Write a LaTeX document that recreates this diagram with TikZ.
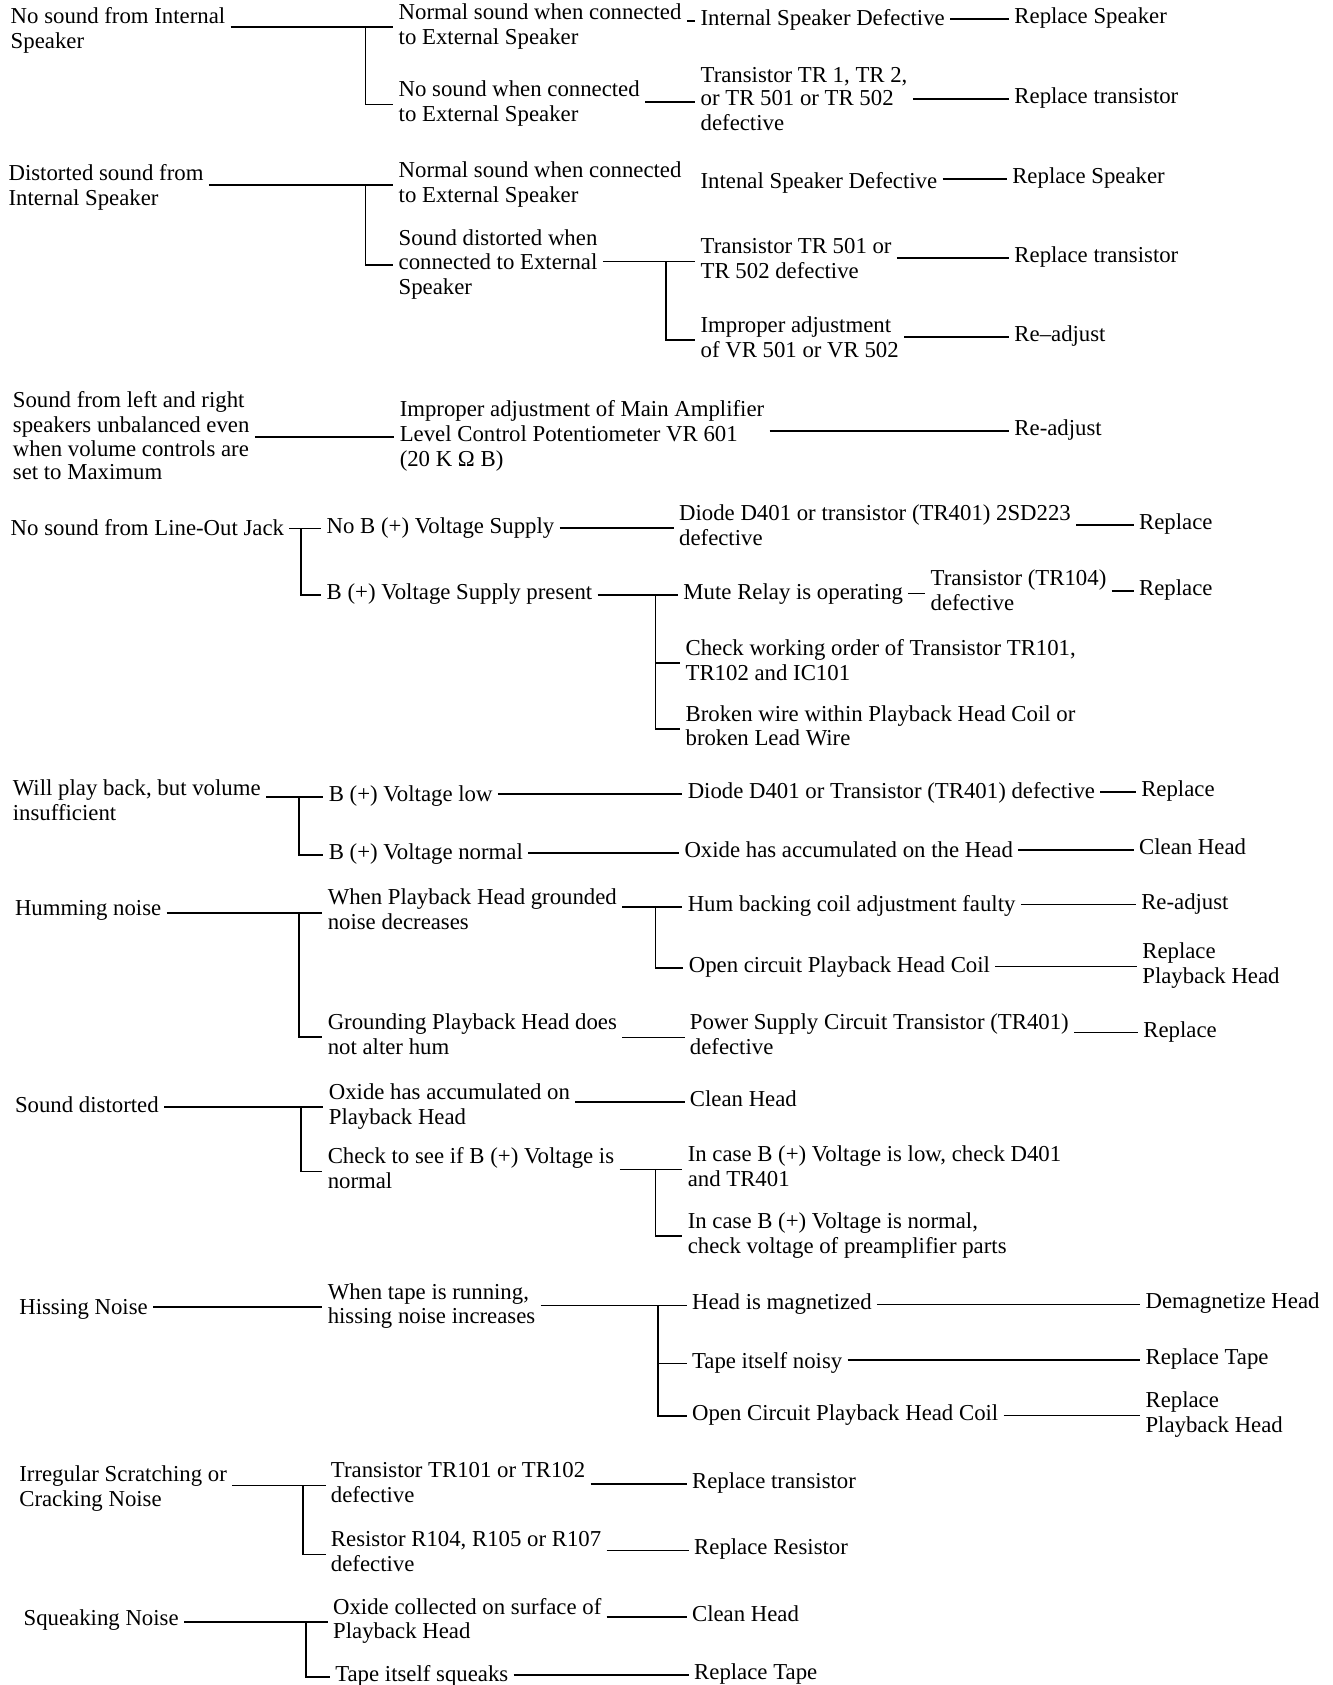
\documentclass[tikz,border=0pt]{standalone}
\usepackage{fontspec}
\setmainfont{Liberation Serif}
\newcommand\tl[1]{\vtop{\let\\\cr\halign{\strut##\hfil\cr#1\crcr}}}
\tikzset{
  txt/.style={inner sep=0pt, outer sep=2.5pt, xshift=-2.5pt, anchor=base west, font=\fontsize{10.6pt}{10.5pt}\selectfont},
  ln/.style={line width=0.8pt, line join=miter},
}
\begin{document}
\begin{tikzpicture}[x=0.5pt, y=-0.5pt]
\fill[white] (0,0) rectangle (1240,1568);
\useasboundingbox (0,0) rectangle (1240,1568);
% bracket x positions
\coordinate (x1) at (340,0);
\coordinate (x2) at (340,0);
\coordinate (x3) at (620,0);
\coordinate (x4) at (280,0);
\coordinate (x5) at (610,0);
\coordinate (x6) at (278,0);
\coordinate (x7) at (278,0);
\coordinate (x8) at (610,0);
\coordinate (x9) at (280,0);
\coordinate (x10) at (610,0);
\coordinate (x11) at (612,0);
\coordinate (x12) at (282,0);
\coordinate (x13) at (285,0);

% Section 1
\node[txt] (r1) at (10,22) {\tl{No sound from Internal\\Speaker}};
\node[txt] (a1) at (371,18) {\tl{Normal sound when connected\\to External Speaker}};
\node[txt] (a2) at (371,90) {\tl{No sound when connected\\to External Speaker}};
\node[txt] (a3) at (652,24) {\tl{Internal Speaker Defective}};
\node[txt] (a4) at (944,22) {\tl{Replace Speaker}};
\node[txt] (a5) at (652,77) {\tl{Transistor TR 1, TR 2,\\or TR 501 or TR 502\\defective}};
\node[txt] (a6) at (944,96) {\tl{Replace transistor}};
\draw[ln] (r1.east |- a1.west) -- (a1.west);
\draw[ln] (x1 |- a1.west) -- (x1 |- a2.west) -- (a2.west);
\draw[ln] (a1.east |- a3.west) -- (a3.west);
\draw[ln] (a3.east |- a4.west) -- (a4.west);
\draw[ln] (a2.east |- a5.west) -- (a5.west);
\draw[ln] (a5.east |- a6.west) -- (a6.west);

% Section 2
\node[txt] (r2) at (8,168) {\tl{Distorted sound from\\Internal Speaker}};
\node[txt] (b1) at (371,165) {\tl{Normal sound when connected\\to External Speaker}};
\node[txt] (b2) at (371,228) {\tl{Sound distorted when\\connected to External\\Speaker}};
\node[txt] (b3) at (652,175) {\tl{Intenal Speaker Defective}};
\node[txt] (b4) at (942,171) {\tl{Replace Speaker}};
\node[txt] (b5) at (652,236) {\tl{Transistor TR 501 or\\TR 502 defective}};
\node[txt] (b6) at (944,244) {\tl{Replace transistor}};
\node[txt] (b7) at (652,309) {\tl{Improper adjustment\\of VR 501 or VR 502}};
\node[txt] (b8) at (944,318) {\tl{Re--adjust}};
\draw[ln] (r2.east |- b1.west) -- (b1.west);
\draw[ln] (x2 |- b1.west) -- (x2 |- b2.west) -- (b2.west);
\draw[ln] (b3.east |- b4.west) -- (b4.west);
\draw[ln] (b2.east |- b5.west) -- (b5.west);
\draw[ln] (x3 |- b5.west) -- (x3 |- b7.west) -- (b7.west);
\draw[ln] (b5.east |- b6.west) -- (b6.west);
\draw[ln] (b7.east |- b8.west) -- (b8.west);

% Section 3
\node[txt] (r3) at (12,379) {\tl{Sound from left and right\\speakers unbalanced even\\when volume controls are\\set to Maximum}};
\node[txt] (c1) at (372,388) {\tl{Improper adjustment of Main Amplifier\\Level Control Potentiometer VR 601\\(20 K Ω B)}};
\node[txt] (c2) at (944,405) {\tl{Re-adjust}};
\draw[ln] (r3.east |- c1.west) -- (c1.west);
\draw[ln] (c1.east |- c2.west) -- (c2.west);

% Section 4
\node[txt] (r4) at (10,498) {\tl{No sound from Line-Out Jack}};
\node[txt] (d1) at (304,496) {\tl{No B (+) Voltage Supply}};
\node[txt] (d2) at (304,558) {\tl{B (+) Voltage Supply present}};
\node[txt] (d3) at (632,484) {\tl{Diode D401 or transistor (TR401) 2SD223\\defective}};
\node[txt] (d4) at (1060,493) {\tl{Replace}};
\node[txt] (d5) at (636,558) {\tl{Mute Relay is operating}};
\node[txt] (d6) at (866,545) {\tl{Transistor (TR104)\\defective}};
\node[txt] (d7) at (1060,554) {\tl{Replace}};
\node[txt] (d8) at (638,610) {\tl{Check working order of Transistor TR101,\\TR102 and IC101}};
\node[txt] (d9) at (638,671) {\tl{Broken wire within Playback Head Coil or\\broken Lead Wire}};
\draw[ln] (r4.east |- d1.west) -- (d1.west);
\draw[ln] (x4 |- d1.west) -- (x4 |- d2.west) -- (d2.west);
\draw[ln] (d1.east |- d3.west) -- (d3.west);
\draw[ln] (d3.east |- d4.west) -- (d4.west);
\draw[ln] (d2.east |- d5.west) -- (d5.west);
\draw[ln] (x5 |- d5.west) -- (x5 |- d9.west) -- (d9.west);
\draw[ln] (x5 |- d8.west) -- (d8.west);
\draw[ln] (d5.east |- d6.west) -- (d6.west);
\draw[ln] (d6.east |- d7.west) -- (d7.west);

% Section 5
\node[txt] (r5) at (12,740) {\tl{Will play back, but volume\\insufficient}};
\node[txt] (e1) at (306,746) {\tl{B (+) Voltage low}};
\node[txt] (e2) at (306,800) {\tl{B (+) Voltage normal}};
\node[txt] (e3) at (640,743) {\tl{Diode D401 or Transistor (TR401) defective}};
\node[txt] (e4) at (1062,741) {\tl{Replace}};
\node[txt] (e5) at (637,798) {\tl{Oxide has accumulated on the Head}};
\node[txt] (e6) at (1060,795) {\tl{Clean Head}};
\draw[ln] (r5.east |- e1.west) -- (e1.west);
\draw[ln] (x6 |- e1.west) -- (x6 |- e2.west) -- (e2.west);
\draw[ln] (e1.east |- e3.west) -- (e3.west);
\draw[ln] (e3.east |- e4.west) -- (e4.west);
\draw[ln] (e2.east |- e5.west) -- (e5.west);
\draw[ln] (e5.east |- e6.west) -- (e6.west);

% Section 6
\node[txt] (r6) at (14,852) {\tl{Humming noise}};
\node[txt] (f1) at (305,842) {\tl{When Playback Head grounded\\noise decreases}};
\node[txt] (f2) at (305,958) {\tl{Grounding Playback Head does\\not alter hum}};
\node[txt] (f3) at (640,848) {\tl{Hum backing coil adjustment faulty}};
\node[txt] (f4) at (1062,846) {\tl{Re-adjust}};
\node[txt] (f5) at (641,905) {\tl{Open circuit Playback Head Coil}};
\node[txt] (f6) at (1063,892) {\tl{Replace\\Playback Head}};
\node[txt] (f7) at (642,958) {\tl{Power Supply Circuit Transistor (TR401)\\defective}};
\node[txt] (f8) at (1064,965) {\tl{Replace}};
\draw[ln] (r6.east |- f1.west) -- (f1.west);
\draw[ln] (x7 |- f1.west) -- (x7 |- f2.west) -- (f2.west);
\draw[ln] (f1.east |- f3.west) -- (f3.west);
\draw[ln] (x8 |- f3.west) -- (x8 |- f5.west) -- (f5.west);
\draw[ln] (f3.east |- f4.west) -- (f4.west);
\draw[ln] (f5.east |- f6.west) -- (f6.west);
\draw[ln] (f2.east |- f7.west) -- (f7.west);
\draw[ln] (f7.east |- f8.west) -- (f8.west);

% Section 7
\node[txt] (r7) at (14,1035) {\tl{Sound distorted}};
\node[txt] (g1) at (306,1023) {\tl{Oxide has accumulated on\\Playback Head}};
\node[txt] (g2) at (305,1083) {\tl{Check to see if B (+) Voltage is\\normal}};
\node[txt] (g3) at (642,1030) {\tl{Clean Head}};
\node[txt] (g4) at (640,1081) {\tl{In case B (+) Voltage is low, check D401\\and TR401}};
\node[txt] (g5) at (640,1143) {\tl{In case B (+) Voltage is normal,\\check voltage of preamplifier parts}};
\draw[ln] (r7.east |- g1.west) -- (g1.west);
\draw[ln] (x9 |- g1.west) -- (x9 |- g2.west) -- (g2.west);
\draw[ln] (g1.east |- g3.west) -- (g3.west);
\draw[ln] (g2.east |- g4.west) -- (g4.west);
\draw[ln] (x10 |- g4.west) -- (x10 |- g5.west) -- (g5.west);

% Section 8
\node[txt] (r8) at (18,1223) {\tl{Hissing Noise}};
\node[txt] (h1) at (305,1209) {\tl{When tape is running,\\hissing noise increases}};
\node[txt] (h2) at (644,1219) {\tl{Head is magnetized}};
\node[txt] (h3) at (1066,1218) {\tl{Demagnetize Head}};
\node[txt] (h4) at (644,1273) {\tl{Tape itself noisy}};
\node[txt] (h5) at (1066,1270) {\tl{Replace Tape}};
\node[txt] (h6) at (644,1322) {\tl{Open Circuit Playback Head Coil}};
\node[txt] (h7) at (1066,1310) {\tl{Replace\\Playback Head}};
\draw[ln] (r8.east |- h1.west) -- (h1.west);
\draw[ln] (h1.east |- h2.west) -- (h2.west);
\draw[ln] (x11 |- h2.west) -- (x11 |- h6.west) -- (h6.west);
\draw[ln] (x11 |- h4.west) -- (h4.west);
\draw[ln] (h2.east |- h3.west) -- (h3.west);
\draw[ln] (h4.east |- h5.west) -- (h5.west);
\draw[ln] (h6.east |- h7.west) -- (h7.west);

% Section 9
\node[txt] (r9) at (18,1379) {\tl{Irregular Scratching or\\Cracking Noise}};
\node[txt] (i1) at (308,1375) {\tl{Transistor TR101 or TR102\\defective}};
\node[txt] (i2) at (308,1439) {\tl{Resistor R104, R105 or R107\\defective}};
\node[txt] (i3) at (644,1385) {\tl{Replace transistor}};
\node[txt] (i4) at (646,1447) {\tl{Replace Resistor}};
\draw[ln] (r9.east |- i1.west) -- (i1.west);
\draw[ln] (x12 |- i1.west) -- (x12 |- i2.west) -- (i2.west);
\draw[ln] (i1.east |- i3.west) -- (i3.west);
\draw[ln] (i2.east |- i4.west) -- (i4.west);

% Section 10
\node[txt] (r10) at (22,1513) {\tl{Squeaking Noise}};
\node[txt] (j1) at (310,1502) {\tl{Oxide collected on surface of\\Playback Head}};
\node[txt] (j2) at (312,1565) {\tl{Tape itself squeaks}};
\node[txt] (j3) at (644,1509) {\tl{Clean Head}};
\node[txt] (j4) at (646,1563) {\tl{Replace Tape}};
\draw[ln] (r10.east |- j1.west) -- (j1.west);
\draw[ln] (x13 |- j1.west) -- (x13 |- j2.west) -- (j2.west);
\draw[ln] (j1.east |- j3.west) -- (j3.west);
\draw[ln] (j2.east |- j4.west) -- (j4.west);
\end{tikzpicture}
\end{document}
